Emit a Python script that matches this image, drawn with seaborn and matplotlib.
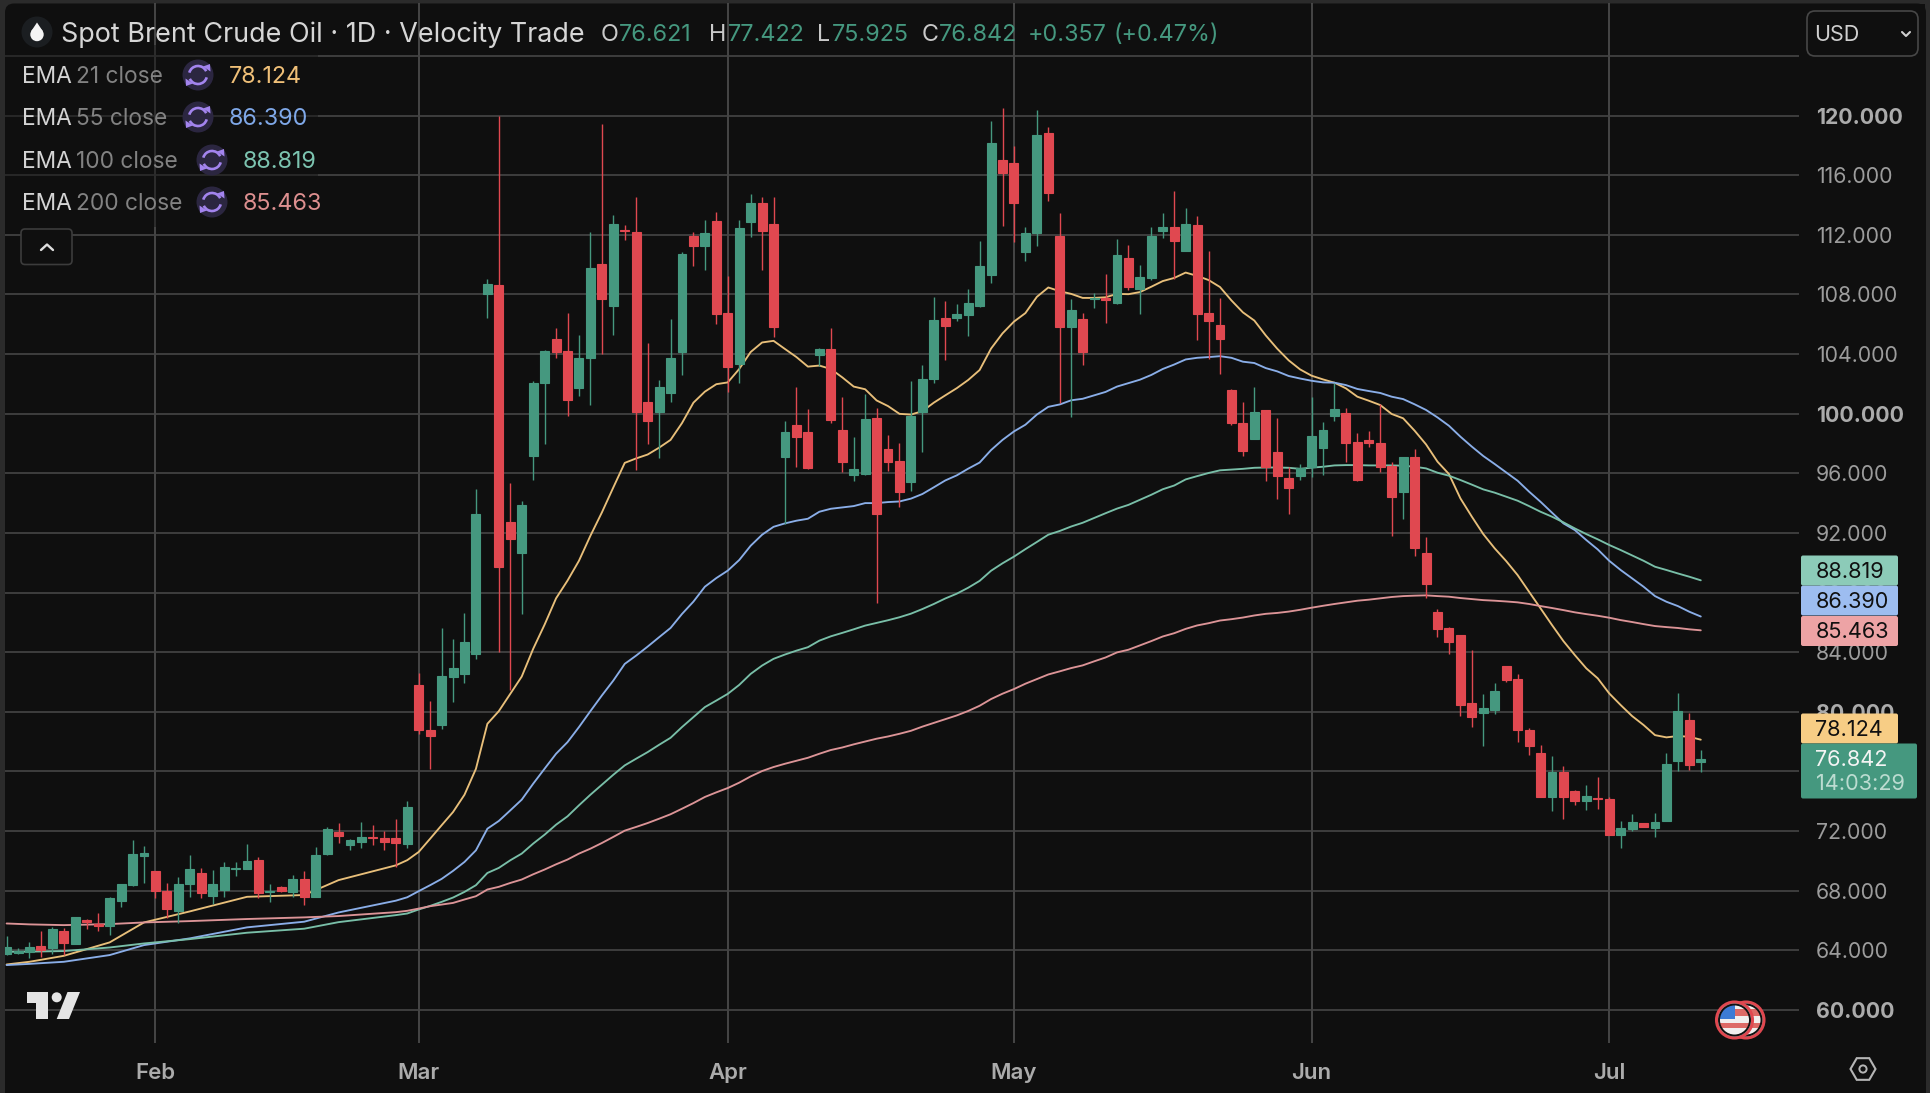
import matplotlib
matplotlib.use("Agg")
import matplotlib.pyplot as plt
import numpy as np
import seaborn as sns
from matplotlib.patches import Arc, Circle, FancyBboxPatch, Polygon, Rectangle, RegularPolygon

# Daily candles, oldest first
opens = [
    63.74, 63.78, 63.89, 64.30, 64.12, 65.28, 64.38, 66.00, 65.77, 65.64,
    67.29, 68.34, 70.34, 69.31, 67.99, 66.62, 68.43, 69.15, 67.65, 68.03,
    69.42, 69.44, 70.07, 67.92, 68.21, 67.92, 68.75, 67.54, 70.43, 71.92,
    71.05, 71.27, 71.61, 71.54, 71.50, 71.14, 81.77, 78.79, 79.10, 82.30,
    82.52, 83.88, 108.02, 108.63, 92.70, 90.68, 97.15, 102.03, 104.98, 104.21,
    101.71, 103.73, 110.06, 107.25, 112.33, 112.22, 100.80, 100.13, 101.37, 104.16,
    111.92, 111.22, 112.92, 106.79, 103.32, 112.87, 114.12, 112.74, 97.10, 99.26,
    98.74, 103.91, 104.32, 98.90, 95.86, 95.95, 99.69, 97.60, 96.81, 95.42,
    100.10, 102.30, 106.45, 106.41, 106.63, 107.20, 109.31, 117.03, 116.85, 110.88,
    112.13, 118.82, 111.92, 105.84, 106.34, 107.70, 107.77, 107.41, 110.43, 108.36,
    109.13, 112.28, 112.51, 110.92, 112.69, 106.75, 105.98, 101.60, 99.40, 98.29,
    100.23, 97.41, 95.71, 95.85, 96.41, 97.70, 99.85, 100.03, 98.09, 98.24,
    98.02, 96.50, 94.73, 97.10, 90.66, 86.70, 85.62, 85.13, 80.57, 79.90,
    80.12, 83.07, 82.18, 78.80, 77.26, 74.30, 75.96, 74.71, 74.01, 74.24,
    74.13, 71.71, 72.11, 72.56, 72.22, 72.65, 76.68, 79.45, 76.621,
]
highs = [
    64.97, 64.12, 64.52, 65.26, 65.53, 65.48, 66.20, 66.06, 66.51, 67.58,
    68.41, 71.39, 70.96, 69.31, 68.52, 68.88, 70.36, 69.49, 69.37, 69.89,
    69.89, 71.14, 70.22, 68.41, 68.30, 69.02, 69.31, 70.89, 72.24, 72.51,
    71.43, 72.57, 72.39, 72.01, 72.80, 74.00, 82.60, 80.69, 85.60, 84.89,
    86.63, 94.96, 109.02, 119.98, 95.36, 94.11, 102.21, 104.25, 105.75, 106.75,
    105.25, 112.17, 119.43, 113.33, 112.65, 114.57, 104.75, 102.26, 106.34, 110.83,
    112.20, 113.03, 113.51, 109.24, 113.03, 114.71, 114.57, 114.57, 99.49, 101.76,
    100.33, 104.43, 105.75, 101.12, 98.42, 101.30, 100.40, 98.56, 98.00, 102.17,
    103.25, 107.82, 107.59, 107.36, 108.40, 111.60, 119.64, 120.50, 117.96, 112.51,
    120.36, 119.27, 113.44, 107.70, 106.75, 108.11, 109.36, 111.72, 111.29, 110.00,
    112.51, 113.44, 114.94, 113.81, 113.30, 110.90, 107.75, 101.66, 100.77, 101.82,
    100.28, 99.70, 96.41, 96.60, 101.10, 99.45, 102.09, 100.41, 98.69, 98.82,
    100.63, 96.77, 97.08, 97.62, 91.73, 86.88, 85.66, 85.15, 84.13, 81.17,
    81.91, 83.09, 82.54, 78.93, 77.75, 77.03, 76.36, 74.75, 75.06, 75.65,
    74.28, 72.65, 73.16, 72.56, 73.23, 77.21, 81.24, 79.90, 77.422,
]
lows = [
    63.67, 63.74, 63.45, 63.56, 63.74, 63.67, 64.38, 65.39, 65.28, 64.99,
    66.91, 68.30, 68.52, 67.47, 66.13, 65.84, 67.58, 67.47, 67.09, 67.58,
    68.97, 69.44, 67.47, 67.25, 67.90, 67.58, 67.05, 67.54, 70.40, 71.21,
    70.74, 70.87, 71.03, 70.74, 69.60, 70.87, 78.50, 76.17, 78.81, 80.66,
    81.92, 83.52, 106.45, 83.99, 81.47, 86.54, 95.58, 97.97, 103.73, 99.87,
    101.19, 100.58, 104.03, 105.27, 111.67, 96.20, 97.97, 97.04, 100.76, 102.60,
    109.90, 109.65, 106.00, 101.48, 102.07, 111.88, 109.63, 105.14, 92.57, 96.43,
    96.27, 103.17, 99.37, 96.08, 95.47, 95.90, 87.28, 96.13, 93.75, 94.81,
    97.45, 102.07, 103.62, 106.25, 105.23, 107.16, 108.79, 112.58, 111.50, 110.27,
    111.22, 114.24, 100.71, 99.76, 103.25, 107.09, 106.09, 107.38, 108.29, 106.70,
    108.97, 111.81, 109.06, 110.90, 104.96, 103.69, 102.66, 99.23, 97.17, 98.27,
    95.45, 94.30, 93.30, 95.56, 95.74, 95.91, 99.52, 96.79, 95.47, 97.75,
    96.09, 91.82, 92.96, 90.46, 87.66, 85.00, 83.86, 79.74, 79.00, 77.70,
    79.83, 82.02, 77.97, 77.10, 74.26, 73.36, 72.83, 73.77, 73.43, 73.48,
    71.75, 70.88, 71.98, 72.25, 71.62, 72.65, 76.03, 76.12, 75.925,
]
closes = [
    64.23, 63.96, 64.23, 64.00, 65.39, 64.45, 66.20, 65.88, 65.62, 67.47,
    68.41, 70.43, 70.54, 67.96, 66.76, 68.41, 69.42, 67.85, 68.41, 69.55,
    69.49, 70.00, 67.85, 67.99, 67.96, 68.75, 67.54, 70.36, 72.15, 71.68,
    71.39, 71.57, 71.52, 71.23, 71.16, 73.58, 78.77, 78.39, 82.42, 82.92,
    84.70, 93.28, 108.70, 89.69, 91.56, 93.86, 102.05, 104.21, 104.14, 100.94,
    103.73, 109.77, 107.73, 112.76, 112.26, 100.13, 99.53, 101.76, 103.73, 110.72,
    111.27, 112.15, 106.70, 103.10, 112.47, 114.17, 112.28, 105.84, 98.79, 98.44,
    96.36, 104.32, 99.58, 96.77, 96.31, 99.65, 93.25, 96.77, 94.72, 99.87,
    102.30, 106.30, 105.88, 106.68, 107.41, 109.90, 118.16, 116.14, 114.12, 112.15,
    118.68, 114.78, 105.84, 106.97, 104.14, 107.77, 107.66, 110.65, 108.47, 109.18,
    111.92, 112.51, 111.60, 112.74, 106.70, 106.23, 104.98, 99.36, 97.53, 100.10,
    96.41, 95.80, 95.02, 96.38, 98.51, 98.91, 100.34, 98.00, 95.56, 98.02,
    96.41, 94.44, 97.08, 90.99, 88.58, 85.53, 84.68, 80.48, 79.65, 80.23,
    81.40, 82.13, 78.76, 77.70, 74.26, 75.96, 74.30, 74.04, 74.35, 74.15,
    71.75, 72.20, 72.60, 72.25, 72.63, 76.50, 80.05, 76.43, 76.842,
]

# Moving averages: the quiet start is listed at a few bars, then one value per bar
early_bars = [1, 3, 6, 10, 13, 17, 22, 27, 30, 35, 36]
daily_bars = list(range(37, 150))
ema_bars = early_bars + daily_bars

ema21 = [
    63.04, 63.22, 63.62, 64.52, 65.86, 66.60, 67.58, 67.70, 68.70, 69.69, 70.04,
    70.59, 71.48, 72.38, 73.27, 74.43, 76.17, 79.19, 80.04, 81.20, 82.36,
    84.22, 85.85, 87.61, 88.80, 90.13, 91.81, 93.37, 95.05, 96.70, 97.00,
    97.26, 97.72, 98.24, 99.37, 100.74, 101.48, 101.98, 102.10, 103.00, 104.14,
    104.78, 104.89, 104.34, 103.80, 103.16, 103.23, 103.00, 102.44, 101.82, 101.64,
    100.89, 100.51, 99.99, 99.94, 100.17, 100.74, 101.23, 101.71, 102.26, 102.93,
    104.37, 105.39, 106.18, 106.75, 107.84, 108.47, 108.22, 108.04, 107.77, 107.77,
    107.81, 108.04, 108.02, 108.16, 108.52, 108.90, 109.11, 109.47, 109.25, 108.97,
    108.50, 107.60, 106.80, 106.25, 105.25, 104.36, 103.58, 102.97, 102.55, 102.30,
    102.08, 101.70, 101.14, 100.87, 100.58, 99.98, 99.69, 98.86, 97.94, 96.78,
    95.95, 94.32, 93.09, 91.92, 90.96, 90.11, 89.17, 88.05, 86.94, 85.82,
    84.74, 83.80, 82.91, 82.24, 81.23, 80.45, 79.71, 79.11, 78.43, 78.28,
    78.37, 78.32, 78.124,
]
ema55 = [
    63.00, 63.08, 63.22, 63.67, 64.34, 64.79, 65.53, 65.91, 66.53, 67.32, 67.55,
    67.96, 68.36, 68.78, 69.32, 69.92, 70.70, 72.15, 72.67, 73.38, 74.10,
    75.17, 76.18, 77.18, 77.96, 78.97, 80.04, 81.09, 82.09, 83.21, 83.77,
    84.37, 85.00, 85.62, 86.56, 87.39, 88.39, 88.97, 89.47, 90.18, 91.14,
    91.88, 92.41, 92.64, 92.82, 92.95, 93.42, 93.62, 93.71, 93.80, 94.00,
    94.00, 94.07, 94.11, 94.30, 94.61, 95.06, 95.52, 95.86, 96.31, 96.72,
    97.56, 98.24, 98.81, 99.26, 99.94, 100.46, 100.62, 100.90, 101.00, 101.23,
    101.46, 101.82, 102.05, 102.28, 102.60, 103.00, 103.30, 103.64, 103.75, 103.80,
    103.86, 103.75, 103.49, 103.40, 103.06, 102.84, 102.53, 102.36, 102.21, 102.10,
    102.08, 101.92, 101.66, 101.52, 101.39, 101.14, 100.98, 100.63, 100.25, 99.75,
    99.19, 98.46, 97.79, 97.16, 96.62, 96.06, 95.50, 94.77, 94.09, 93.36,
    92.64, 92.19, 91.52, 90.89, 90.13, 89.51, 88.95, 88.39, 87.76, 87.38,
    87.09, 86.71, 86.390,
]
ema100 = [
    63.89, 63.90, 63.94, 64.18, 64.45, 64.74, 65.17, 65.44, 65.88, 66.35, 66.46,
    66.73, 66.97, 67.24, 67.53, 67.91, 68.36, 69.18, 69.52, 70.03, 70.48,
    71.15, 71.75, 72.42, 72.98, 73.72, 74.43, 75.10, 75.77, 76.40, 76.85,
    77.29, 77.78, 78.25, 78.97, 79.64, 80.31, 80.75, 81.20, 81.80, 82.54,
    83.10, 83.55, 83.84, 84.10, 84.33, 84.77, 85.06, 85.29, 85.53, 85.78,
    85.96, 86.14, 86.34, 86.58, 86.89, 87.23, 87.60, 87.92, 88.32, 88.78,
    89.46, 89.96, 90.41, 90.91, 91.39, 91.88, 92.13, 92.43, 92.68, 93.00,
    93.32, 93.63, 93.88, 94.22, 94.56, 94.93, 95.18, 95.59, 95.81, 96.02,
    96.20, 96.25, 96.30, 96.37, 96.39, 96.39, 96.37, 96.30, 96.38, 96.44,
    96.53, 96.55, 96.55, 96.53, 96.53, 96.53, 96.51, 96.44, 96.33, 96.04,
    95.84, 95.55, 95.24, 94.92, 94.70, 94.43, 94.16, 93.80, 93.42, 93.09,
    92.71, 92.30, 91.92, 91.57, 91.19, 90.85, 90.49, 90.13, 89.73, 89.51,
    89.28, 89.06, 88.819,
]
ema200 = [
    65.79, 65.73, 65.68, 65.75, 65.86, 65.95, 66.09, 66.20, 66.29, 66.55, 66.64,
    66.79, 66.95, 67.06, 67.17, 67.40, 67.62, 68.07, 68.25, 68.51, 68.74,
    69.09, 69.41, 69.76, 70.08, 70.48, 70.81, 71.19, 71.60, 72.02, 72.27,
    72.53, 72.82, 73.12, 73.49, 73.87, 74.28, 74.59, 74.88, 75.24, 75.66,
    76.02, 76.29, 76.51, 76.71, 76.91, 77.18, 77.43, 77.60, 77.81, 78.00,
    78.19, 78.34, 78.52, 78.72, 79.00, 79.25, 79.50, 79.75, 80.05, 80.40,
    80.85, 81.21, 81.52, 81.88, 82.19, 82.50, 82.71, 82.93, 83.11, 83.38,
    83.64, 83.98, 84.16, 84.45, 84.74, 85.05, 85.27, 85.56, 85.79, 85.94,
    86.12, 86.21, 86.32, 86.46, 86.57, 86.63, 86.72, 86.84, 86.98, 87.11,
    87.23, 87.34, 87.45, 87.52, 87.61, 87.70, 87.76, 87.79, 87.81, 87.76,
    87.72, 87.63, 87.56, 87.49, 87.45, 87.40, 87.34, 87.23, 87.09, 86.96,
    86.82, 86.67, 86.55, 86.44, 86.31, 86.15, 86.02, 85.88, 85.75, 85.68,
    85.62, 85.53, 85.463,
]

month_bars = [14, 37, 64, 89, 115, 141]
month_labels = ["Feb", "Mar", "Apr", "May", "Jun", "Jul"]
price_ticks = list(range(60, 128, 4))
bold_prices = [60, 80, 100, 120]

ema_rows = [
    ("21", ema21, "#e8bf7a", "#f0c078", "#f7cd85"),
    ("55", ema55, "#8aaee8", "#7fa8e8", "#9dbdf0"),
    ("100", ema100, "#79bfa8", "#7cc4b0", "#8ccbb8"),
    ("200", ema200, "#dc9497", "#dd8f8f", "#eda3a5"),
]

PANEL = "#0f0f0f"
FRAME = "#2b2b2b"
UP = "#45987f"
DOWN = "#e04850"
UI_FONT = ["Inter", "DejaVu Sans"]

sns.set_theme(style="dark")
plt.rcParams["font.family"] = UI_FONT

fig = plt.figure(figsize=(19.30, 10.93), dpi=100, facecolor=FRAME)
W, H = 1930, 1093


def pixel_axes(z):
    """Full-figure axes addressed in pixels, y downward, for the app chrome."""
    a = fig.add_axes([0, 0, 1, 1], zorder=z, facecolor="none")
    a.set_xlim(0, W)
    a.set_ylim(H, 0)
    a.axis("off")
    return a


under = pixel_axes(0)
under.add_patch(FancyBboxPatch((5, 3.5), 1921, 1120, boxstyle="round,pad=0,rounding_size=9",
                               fc=PANEL, ec="none"))

# Price pane
left, right, top, bottom = 5, 1799, 3, 1043
ax = fig.add_axes([left / W, 1 - bottom / H, (right - left) / W, (bottom - top) / H],
                  zorder=1, facecolor="none")
ax.set_xlim(0.86, 157.58)
ax.set_ylim(57.77, 127.56)

bars = np.arange(1, len(opens) + 1)
o, h, l, c = map(np.array, (opens, highs, lows, closes))
colors = np.where(c >= o, UP, DOWN)

for _, series, line_color, _, _ in ema_rows:
    sns.lineplot(x=ema_bars, y=series, ax=ax, color=line_color, linewidth=1.35, zorder=3,
                 errorbar=None, estimator=None, sort=False)

ax.vlines(bars, l, h, colors=colors, linewidth=1.0, zorder=4)
ax.bar(bars, np.abs(c - o), bottom=np.minimum(o, c), width=0.78, color=colors,
       edgecolor=colors, linewidth=0.8, zorder=5)

ax.set_xticks(month_bars, month_labels)
ax.set_yticks(price_ticks)
ax.set_yticklabels([f"{p:.3f}" for p in price_ticks])
ax.yaxis.tick_right()
ax.set_xlabel("")
ax.set_ylabel("")
ax.grid(True, axis="y", color="#434343", linewidth=1.25, zorder=0)
ax.grid(True, axis="x", color="#4d4d4d", linewidth=1.25, zorder=0)
ax.set_axisbelow(True)
ax.tick_params(axis="both", length=0)
ax.tick_params(axis="y", pad=12, labelsize=15.3, labelcolor="#9c9c9c")
ax.tick_params(axis="x", pad=14.5, labelsize=16.0, labelcolor="#ababab")
for lab in ax.get_xticklabels():
    lab.set_fontweight("semibold")
for lab, price in zip(ax.get_yticklabels(), price_ticks):
    if price in bold_prices:
        lab.set_fontweight("bold")
        lab.set_color("#ababab")
for side in ax.spines.values():
    side.set_visible(False)

over = pixel_axes(5)

# Veil that dims the grid behind the indicator list
over.add_patch(Rectangle((5, 45), 313, 182, fc=PANEL, ec="none", alpha=0.45))

# Title row
over.add_patch(Circle((37, 32), 15.5, fc="#1b1e21", ec="none"))
over.add_patch(Circle((37, 34.5), 6.7, fc="#f4f4f4", ec="none"))
over.add_patch(Polygon([(31, 31.5), (37, 22.5), (43, 31.5)], closed=True, fc="#f4f4f4", ec="none"))
over.text(61, 35, "Spot Brent Crude Oil · 1D · Velocity Trade", color="#d6d6d6",
          fontsize=19.4, va="center", ha="left")

ohlc_text = [
    (601, "O", "#c9c9c9"), (619, f"{opens[-1]:.3f}", UP),
    (709, "H", "#c9c9c9"), (727.5, f"{highs[-1]:.3f}", UP),
    (817, "L", "#c9c9c9"), (832, f"{lows[-1]:.3f}", UP),
    (922, "C", "#c9c9c9"), (939, f"{closes[-1]:.3f}", UP),
    (1028, "+0.357", UP), (1114, "(+0.47%)", UP),
]
for x, label, col in ohlc_text:
    over.text(x, 35, label, color=col, fontsize=16.8, va="center", ha="left")


def refresh_icon(cx, cy):
    purple = "#a384ee"
    over.add_patch(Circle((cx, cy), 15.5, fc="#2b2640", ec="none"))
    over.add_patch(Arc((cx, cy), 18, 18, theta1=195, theta2=335, ec=purple, lw=1.9))
    over.add_patch(Arc((cx, cy), 18, 18, theta1=15, theta2=155, ec=purple, lw=1.9))
    over.add_patch(Polygon([(cx + 5, cy - 8.5), (cx + 12.5, cy - 3.5), (cx + 12, cy - 11)],
                           closed=True, fc=purple, ec="none"))
    over.add_patch(Polygon([(cx - 5, cy + 8.5), (cx - 12.5, cy + 3.5), (cx - 12, cy + 11)],
                           closed=True, fc=purple, ec="none"))


# Indicator list
row_y = [75, 117, 160, 202]
for (length, series, _, text_color, _), y in zip(ema_rows, row_y):
    wide = len(length) == 3
    over.text(21.5, y + 2, "EMA", color="#d4d4d4", fontsize=16.4, va="center", ha="left")
    over.text(76, y + 2, f"{length} close", color="#828282", fontsize=16.4, va="center", ha="left")
    refresh_icon(212 if wide else 198, y)
    over.text(243 if wide else 228.5, y + 2, f"{series[-1]:.3f}", color=text_color,
              fontsize=16.8, va="center", ha="left")

over.add_patch(FancyBboxPatch((21, 229), 51, 35.5, boxstyle="round,pad=0,rounding_size=4",
                              fc=PANEL, ec="#3c3c3c", lw=1.2))
over.plot([41, 47, 53], [250, 244.5, 250], color="#dddddd", lw=1.7, solid_capstyle="round")

# Currency selector, opaque over the top price label
over.add_patch(Rectangle((1800, 4), 125, 60, fc=PANEL, ec="none"))
over.add_patch(FancyBboxPatch((1807, 11), 111, 45, boxstyle="round,pad=0,rounding_size=8",
                              fc=PANEL, ec="#474747", lw=1.2))
over.text(1814, 35, "USD", color="#cfcfcf", fontsize=15.5, va="center", ha="left")
over.plot([1902, 1906, 1910], [32, 36, 32], color="#d0d0d0", lw=1.5)

# Last-value tags on the price scale
tag_centres = {"88.819": 570.5, "86.390": 600.5, "85.463": 631, "78.124": 728.5}
for (_, series, _, _, tag_color) in ema_rows:
    label = f"{series[-1]:.3f}"
    y = tag_centres[label]
    over.add_patch(FancyBboxPatch((1801, y - 15), 97, 30, boxstyle="round,pad=0,rounding_size=2",
                                  fc=tag_color, ec="none"))
    over.text(1815.5, y + 1.3, label, color="#101010", fontsize=15.6, va="center", ha="left")

over.add_patch(FancyBboxPatch((1801, 743.5), 116, 55, boxstyle="round,pad=0,rounding_size=2",
                              fc=UP, ec="none"))
over.text(1815.5, 760.5, f"{closes[-1]:.3f}", color="#f4f4f4", fontsize=15.6, va="center", ha="left")
over.text(1816, 783.5, "14:03:29", color="#bcdcd1", fontsize=15.6, va="center", ha="left")

# Watermark
over.add_patch(Polygon([(26.7, 992), (47.7, 992), (47.7, 1019), (36, 1019), (36, 1002.5), (26.7, 1002.5)],
                       closed=True, fc="#e4e4e4", ec="none"))
over.add_patch(Circle((56.7, 997.3), 5, fc="#e4e4e4", ec="none"))
over.add_patch(Polygon([(80, 992), (69, 1019), (56.7, 1019), (67.5, 992)], closed=True,
                       fc="#e4e4e4", ec="none"))


def flag_coin(cx, cy):
    clip = Circle((cx, cy), 15.5, transform=over.transData)
    over.add_patch(Circle((cx, cy), 18, fc="#f1efee", ec=DOWN, lw=2.2))
    for i, sy in enumerate(np.arange(cy - 15, cy + 15, 6)):
        if i % 2 == 1 or i == 0:
            stripe = Rectangle((cx - 17, sy + (0 if i else 4)), 34, 5, fc="#dd6a66", ec="none")
            over.add_patch(stripe)
            stripe.set_clip_path(clip)
    canton = Rectangle((cx - 17, cy - 17), 17, 16, fc="#3d7bd5", ec="none")
    over.add_patch(canton)
    canton.set_clip_path(clip)
    over.add_patch(Circle((cx, cy), 15.5, fc="none", ec="#111111", lw=1.4))


flag_coin(1746, 1020)
flag_coin(1734.5, 1020)

# Settings glyph
over.add_patch(RegularPolygon((1863, 1069), numVertices=6, radius=12.5, orientation=np.pi / 2,
                              fc="none", ec="#b5b5b5", lw=1.5))
over.add_patch(Circle((1863, 1069), 3.6, fc="none", ec="#b5b5b5", lw=1.4))

fig.savefig("out.png", dpi=100, facecolor=fig.get_facecolor())
